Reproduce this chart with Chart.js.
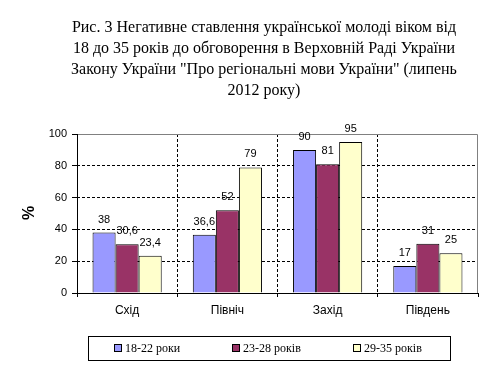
<!DOCTYPE html>
<html>
<head>
<meta charset="utf-8">
<script src="https://cdn.jsdelivr.net/npm/chart.js@4"></script>
<style>
  html, body { margin: 0; padding: 0; background: #fff; }
  #wrap { width: 493px; height: 369px; }
</style>
</head>
<body>
<div id="wrap"><canvas id="chart" width="493" height="369"></canvas></div>
<script>
// chart data
const regions = ["Схід", "Північ", "Захід", "Південь"];
const groupLabels = ["18-22 роки", "23-28 років", "29-35 років"];
const age18to22 = [38, 36.6, 90, 17];
const age23to28 = [30.6, 52, 81, 31];
const age29to35 = [23.4, 79, 95, 25];
const yTicks = [0, 20, 40, 60, 80, 100];

const titleLines = [
  "Рис. 3 Негативне ставлення української молоді віком від",
  "18 до 35 років до обговорення в Верховній Раді України",
  "Закону України \"Про регіональні мови України\" (липень",
  "2012 року)"
];

const colors = ["#9999FF", "#993366", "#FFFFCC"];

// title, legend, value labels and frame drawn by hand
const extras = {
  id: "extras",
  afterDatasetsDraw(chart) {
    const ctx = chart.ctx;
    const a = chart.chartArea;
    ctx.save();

    // plot frame: top/right grey, axes black
    ctx.lineWidth = 1;
    ctx.strokeStyle = "#808080";
    ctx.beginPath();
    ctx.moveTo(a.left, a.top + 0.5);
    ctx.lineTo(a.right - 0.5, a.top + 0.5);
    ctx.lineTo(a.right - 0.5, a.bottom);
    ctx.stroke();
    ctx.strokeStyle = "#000";
    ctx.beginPath();
    ctx.moveTo(a.left + 0.5, a.top);
    ctx.lineTo(a.left + 0.5, a.bottom + 0.5);
    ctx.lineTo(a.right, a.bottom + 0.5);
    ctx.stroke();

    // value labels
    ctx.font = "11px 'Liberation Sans', Arial, sans-serif";
    ctx.fillStyle = "#000";
    ctx.textAlign = "center";
    ctx.textBaseline = "middle";
    chart.data.datasets.forEach((ds, i) => {
      chart.getDatasetMeta(i).data.forEach((bar, j) => {
        ctx.fillText(String(ds.data[j]).replace(".", ","), bar.x, bar.y - 13);
      });
    });

    // title
    ctx.font = "16px 'Liberation Serif', 'Times New Roman', serif";
    titleLines.forEach((line, k) => {
      ctx.fillText(line, 264, 28 + k * 21);
    });

    // y axis name
    ctx.save();
    ctx.translate(30, 213);
    ctx.rotate(-Math.PI / 2);
    ctx.font = "bold 16px 'Liberation Sans', Arial, sans-serif";
    ctx.fillText("%", 0, 0);
    ctx.restore();

    // legend with box
    ctx.strokeStyle = "#000";
    ctx.strokeRect(88.5, 336.5, 362, 24);
    ctx.font = "12px 'Liberation Serif', 'Times New Roman', serif";
    ctx.textAlign = "left";
    const itemX = [114, 232, 353];
    chart.data.datasets.forEach((ds, i) => {
      ctx.fillStyle = ds.backgroundColor;
      ctx.fillRect(itemX[i] + 0.5, 344.5, 7, 7);
      ctx.strokeRect(itemX[i] + 0.5, 344.5, 7, 7);
      ctx.fillStyle = "#000";
      ctx.fillText(ds.label, itemX[i] + 11, 348.5);
    });
    ctx.restore();
  }
};

new Chart(document.getElementById("chart"), {
  type: "bar",
  data: {
    labels: regions,
    datasets: [
      { label: groupLabels[0], data: age18to22, backgroundColor: colors[0] },
      { label: groupLabels[1], data: age23to28, backgroundColor: colors[1] },
      { label: groupLabels[2], data: age29to35, backgroundColor: colors[2] }
    ].map(d => Object.assign(d, {
      borderColor: "#000",
      borderWidth: 1,
      categoryPercentage: 0.69,
      barPercentage: 1.0
    }))
  },
  options: {
    responsive: false,
    animation: false,
    layout: { padding: { top: 134, right: 15, left: 0, bottom: 46 } },
    plugins: {
      legend: { display: false },
      title: { display: false },
      tooltip: { enabled: false }
    },
    scales: {
      x: {
        afterFit: s => { s.height = 30; },
        grid: {
          offset: true,
          // no dashed line on the plot edges
          color: c => (c.index === undefined || c.index === 0 || c.index >= regions.length) ? "transparent" : "#000",
          tickColor: "#000",
          tickLength: 4
        },
        border: { display: false, dash: [3, 2] },
        ticks: {
          color: "#000",
          padding: 6,
          font: { family: "'Liberation Sans', Arial, sans-serif", size: 12 }
        }
      },
      y: {
        min: 0,
        max: 100,
        afterFit: s => { s.width = 77; },
        afterBuildTicks: s => { s.ticks = yTicks.map(v => ({ value: v })); },
        grid: {
          color: c => (c.tick && (c.tick.value === 0 || c.tick.value === 100)) ? "transparent" : "#000",
          tickColor: "#000",
          tickLength: 5
        },
        border: { display: false, dash: [3, 2] },
        ticks: {
          color: "#000",
          padding: 5,
          font: { family: "'Liberation Sans', Arial, sans-serif", size: 11 }
        }
      }
    }
  },
  plugins: [extras]
});
</script>
</body>
</html>
